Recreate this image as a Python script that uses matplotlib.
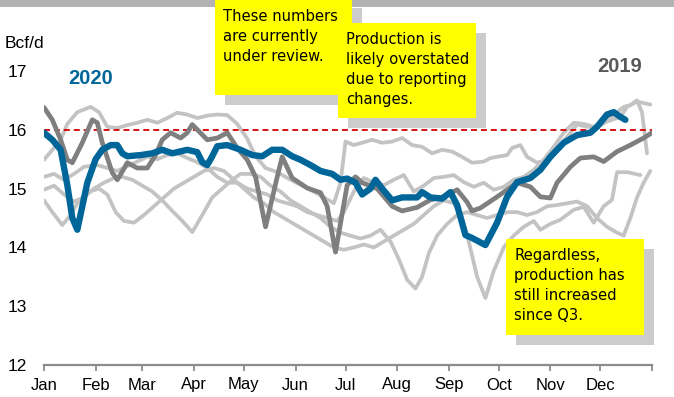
import matplotlib
matplotlib.use('Agg')
import matplotlib.pyplot as plt
from matplotlib.patches import Rectangle

# ---------------- data (day of year, Bcf/d) ----------------
days_2020 = [0,5,10,14,17,20,23,26,31,35,40,44,47,50,58,65,71,77,86,92,95,98,101,104,110,118,125,131,137,143,
             149,154,160,166,173,178,182,187,191,196,199,203,209,215,224,227,232,239,244,248,253,257,265,272,278,284,
             292,298,304,312,320,328,332,338,342,346,349]
vals_2020 = [15.95,15.83,15.66,15.06,14.5,14.3,14.7,15.1,15.5,15.66,15.74,15.74,15.6,15.55,15.57,15.6,15.66,15.6,15.66,15.62,
             15.45,15.4,15.55,15.72,15.74,15.66,15.57,15.55,15.66,15.66,15.55,15.49,15.4,15.3,15.25,15.15,15.17,15.1,14.9,15.0,
             15.15,15.0,14.8,14.85,14.85,14.94,14.85,14.83,14.94,14.72,14.21,14.16,14.04,14.42,14.86,15.11,15.18,15.32,15.54,15.78,
             15.91,15.95,16.05,16.26,16.3,16.22,16.17]

days_2019 = [0,5,10,14,17,23,29,32,35,41,44,47,50,56,62,67,71,76,82,86,89,98,104,110,116,122,127,133,140,143,
             149,158,166,170,175,182,187,191,200,209,215,224,232,239,248,254,257,262,272,284,292,298,304,308,316,322,
             330,336,344,352,360,365]
vals_2019 = [16.38,16.17,15.83,15.49,15.44,15.78,16.17,16.12,15.78,15.27,15.15,15.29,15.44,15.35,15.35,15.57,15.83,15.95,15.86,15.95,
             16.09,15.83,15.86,15.95,15.69,15.49,15.2,14.35,15.2,15.54,15.18,15.01,14.93,14.7,13.92,15.06,15.2,15.1,15.0,14.7,
             14.62,14.68,14.81,14.85,14.98,14.77,14.62,14.67,14.86,15.1,15.03,14.86,14.84,15.1,15.37,15.52,15.54,15.46,15.63,15.74,
             15.86,15.95]

days_a = [0,5,10,14,20,28,33,38,44,50,56,62,68,74,80,86,92,98,104,110,116,122,127,133,140,148,155,162,168,174,
          178,181,186,191,197,203,209,215,221,227,233,239,245,251,257,264,268,278,281,286,290,296,302,308,314,320,
          326,332,338,346,350,356,364]
vals_a = [15.49,15.66,15.83,16.1,16.3,16.39,16.3,16.05,16.03,16.08,16.12,16.17,16.12,16.2,16.29,16.26,16.2,16.24,16.26,16.25,
          16.1,15.85,15.55,15.35,15.28,15.15,15.05,14.95,14.85,14.75,15.1,15.8,15.74,15.78,15.83,15.78,15.8,15.86,15.74,15.71,
          15.6,15.66,15.63,15.54,15.44,15.46,15.52,15.57,15.69,15.74,15.54,15.44,15.49,15.66,15.88,16.09,16.05,16.05,16.14,16.22,
          16.39,16.48,16.43]

days_b = [0,6,12,18,24,32,38,44,50,56,62,68,74,80,86,92,98,104,110,116,122,128,134,140,146,152,158,164,170,176,
          180,186,192,198,204,210,216,222,228,234,240,246,252,258,264,270,276,282,288,294,300,306,312,318,324,330,
          336,342,348,352,356,359,362]
vals_b = [15.2,15.25,15.15,15.25,15.37,15.4,15.35,15.3,15.38,15.46,15.54,15.5,15.57,15.6,15.52,15.45,15.35,15.2,15.1,15.1,
          15.0,14.95,14.9,14.8,14.75,14.7,14.6,14.55,14.5,14.45,14.6,14.95,15.18,15.1,15.06,15.15,15.23,14.95,15.05,15.18,
          15.2,15.23,15.11,15.03,15.1,14.98,15.03,15.15,15.2,15.32,15.49,15.71,15.95,16.12,16.1,16.05,16.15,16.25,16.39,16.42,
          16.5,16.3,15.6]

days_c = [0,6,12,18,24,30,36,42,47,53,59,65,71,77,83,89,95,101,107,113,118,124,130,136,142,148,154,160,166,172,
          178,184,190,196,202,208,213,218,223,227,231,236,242,248,254,260,266,272,278,284,290,296,302,308,314,320,
          326,332,338,344,348,352,356,360,364]
vals_c = [14.98,15.05,14.9,14.78,14.85,15.0,15.1,15.18,15.2,15.15,15.05,14.95,14.8,14.62,14.45,14.26,14.55,14.85,15.0,15.15,
          15.25,15.25,15.2,15.05,14.95,14.8,14.7,14.6,14.5,14.35,14.25,14.2,14.15,14.2,14.3,14.1,13.8,13.45,13.3,13.5,
          13.9,14.2,14.4,14.55,14.6,14.55,14.5,14.55,14.6,14.6,14.55,14.6,14.7,14.72,14.75,14.78,14.7,14.5,14.35,14.25,
          14.2,14.5,14.85,15.1,15.3]

days_d = [0,5,11,16,21,27,33,38,43,48,54,60,66,72,78,84,90,96,102,108,114,120,126,132,138,144,150,156,162,168,
          174,180,186,192,198,204,210,216,222,228,234,240,246,251,255,260,265,270,276,282,288,294,298,304,310,318,
          324,330,336,341,344,350,358]
vals_d = [14.8,14.6,14.38,14.55,14.8,14.95,15.0,14.9,14.6,14.45,14.42,14.55,14.7,14.85,15.0,15.1,15.2,15.3,15.35,15.3,
          15.15,15.0,14.85,14.75,14.6,14.5,14.4,14.3,14.2,14.1,14.0,13.96,14.0,14.05,14.0,14.1,14.2,14.3,14.4,14.55,
          14.7,14.8,14.75,14.5,14.1,13.5,13.14,13.6,14.0,14.2,14.35,14.45,14.3,14.4,14.47,14.64,14.69,14.42,14.7,14.81,
          15.28,15.28,15.23]

month_starts = [0,31,59,90,120,151,181,212,243,273,304,334,365]
month_labels = ['Jan','Feb','Mar','Apr','May','Jun','Jul','Aug','Sep','Oct','Nov','Dec','']
y_ticks = [12,13,14,15,16,17]
reference_level = 16

# ---------------- figure ----------------
W, H = 674, 397
fig = plt.figure(figsize=(W/100, H/100), dpi=100)
fig.patch.set_facecolor('white')

def fx(px):
    return px / W

def fy(py):
    return 1 - py / H

ax = fig.add_axes([fx(44), fy(365), fx(652) - fx(44), fy(71) - fy(365)])
ax.set_xlim(0, 365)
ax.set_ylim(12, 17)

light = '#c3c3c3'
for d, v in [(days_a, vals_a), (days_b, vals_b), (days_c, vals_c), (days_d, vals_d)]:
    ax.plot(d, v, color=light, lw=2.7, solid_joinstyle='round', solid_capstyle='round', zorder=2)

ax.axhline(reference_level, color='#d40000', lw=1.3, ls=(0, (3.3, 2.2)), zorder=3)
ax.plot(days_2019, vals_2019, color='#7f7f7f', lw=3.4, solid_joinstyle='round', solid_capstyle='round', zorder=4)
ax.plot(days_2020, vals_2020, color='#006699', lw=4.6, solid_joinstyle='round', solid_capstyle='round', zorder=5)

for s in ['left', 'top', 'right']:
    ax.spines[s].set_visible(False)
ax.spines['bottom'].set_color('#8c8c8c')
ax.spines['bottom'].set_linewidth(1.6)

ax.set_xticks(month_starts)
ax.set_xticklabels(month_labels)
ax.set_yticks(y_ticks)
ax.tick_params(axis='x', direction='out', length=4, width=1.3, color='#8c8c8c', pad=5,
               labelsize=12, labelcolor='black')
ax.tick_params(axis='y', length=0, pad=12, labelsize=12.5, labelcolor='black')
for lab in ax.get_xticklabels() + ax.get_yticklabels():
    lab.set_fontfamily('Liberation Sans')

fig.text(fx(5), fy(43), 'Bcf/d', fontsize=12.5, family='Liberation Sans', va='center', ha='left')
fig.text(fx(68), fy(78), '2020', fontsize=14.5, fontweight='bold', family='Liberation Sans',
         color='#006699', va='center', ha='left')
fig.text(fx(597), fy(66), '2019', fontsize=14.5, fontweight='bold', family='Liberation Sans',
         color='#595959', va='center', ha='left')

# header band
fig.add_artist(Rectangle((0, fy(7)), 1, 7 / H, transform=fig.transFigure,
                         facecolor='#b3b3b3', edgecolor='none', zorder=6))

def note(x0, y0, x1, y1, text, top):
    fig.add_artist(Rectangle((fx(x0 + 10), fy(y1 + 10)), fx(x1 - x0), (y1 - y0) / H,
                             transform=fig.transFigure, facecolor='#cccccc', edgecolor='none', zorder=7))
    fig.add_artist(Rectangle((fx(x0), fy(y1)), fx(x1 - x0), (y1 - y0) / H,
                             transform=fig.transFigure, facecolor='#ffff00', edgecolor='none', zorder=8))
    fig.text(fx(x0 + 8), fy(top), text, fontsize=10.6, family='DejaVu Sans', va='top', ha='left',
             linespacing=1.43, zorder=9)

note(215, -2, 352, 95, 'These numbers\nare currently\nunder review.', 9)
note(338, 23, 476, 118, 'Production is\nlikely overstated\ndue to reporting\nchanges.', 32)
note(506, 239, 644, 335, 'Regardless,\nproduction has\nstill increased\nsince Q3.', 248)

fig.savefig('out.png', dpi=100)
